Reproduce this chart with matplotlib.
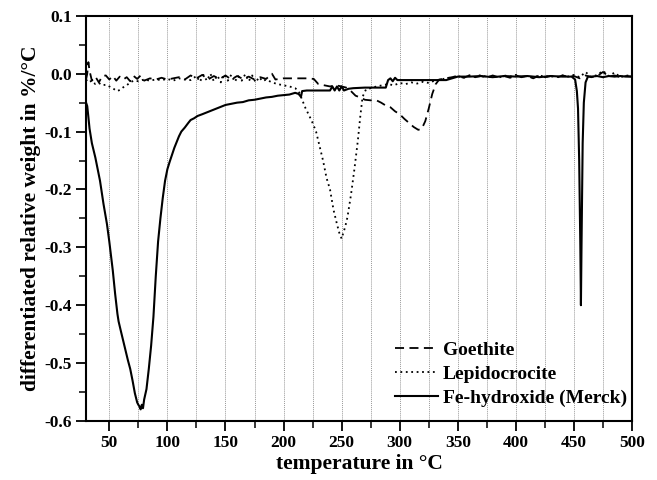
import matplotlib
matplotlib.use('Agg')
import matplotlib.pyplot as plt
from matplotlib.ticker import MultipleLocator

plt.rcParams['font.family'] = 'Liberation Serif'
plt.rcParams['font.weight'] = 'bold'
plt.rcParams['axes.unicode_minus'] = False

# Goethite (dashed)
goe_t = [30, 31, 32, 33, 35, 38, 41, 44, 47, 50, 53, 56, 59, 62, 65, 68, 71, 74, 77, 80,
         85, 90, 95, 100, 105, 110, 115, 120, 125, 130, 135, 140, 145, 150, 155, 160,
         165, 170, 175, 180, 185, 190, 193, 200, 210, 220, 226, 230, 235, 240, 245, 250,
         254, 258, 262, 266, 270, 275, 280, 284, 288, 292, 296, 300, 304, 308, 312, 316,
         319, 322, 325, 328, 331, 334, 340, 345, 350, 355, 360, 365, 370, 375, 380, 385,
         390, 395, 400, 405, 410, 415, 420, 425, 430, 435, 440, 445, 450, 455, 460, 465,
         470, 475, 480, 485, 490, 495, 500]
goe_v = [-0.01, 0.0, 0.02, 0.005, -0.012, -0.005, -0.015, -0.004, -0.003, -0.01, -0.004,
         -0.012, -0.005, -0.01, -0.006, -0.013, -0.004, -0.009, -0.003, -0.012,
         -0.008, -0.01, -0.007, -0.01, -0.008, -0.006, -0.01, -0.003, -0.008, -0.002,
         -0.01, -0.004, -0.009, -0.003, -0.01, -0.004, -0.009, -0.005, -0.01, -0.006,
         -0.009, 0.0, -0.01, -0.008, -0.008, -0.008, -0.009, -0.018, -0.02, -0.022,
         -0.02, -0.022, -0.024, -0.03, -0.038, -0.041, -0.045, -0.046, -0.046, -0.05,
         -0.055, -0.058, -0.065, -0.07, -0.078, -0.085, -0.092, -0.097, -0.095, -0.082,
         -0.06, -0.035, -0.018, -0.01, -0.008, -0.006, -0.004, -0.007, -0.003, -0.006,
         -0.004, -0.007, -0.003, -0.006, -0.004, -0.007, -0.003, -0.006, -0.004, -0.008,
         -0.003, -0.006, -0.004, -0.007, -0.003, -0.005, -0.004, -0.008, -0.003, -0.006,
         -0.004, 0.003, -0.005, -0.003, -0.006, -0.004, -0.005]

# Lepidocrocite (dotted)
lep_t = [30, 32, 35, 38, 41, 44, 47, 50, 53, 55, 57, 59, 61, 63, 65, 68, 71, 75, 80, 85,
         90, 95, 100, 105, 110, 115, 120, 125, 128, 131, 134, 137, 140, 143, 146, 149,
         152, 155, 158, 161, 164, 167, 170, 173, 176, 179, 182, 185, 190, 195, 200, 205,
         210, 213, 216, 219, 222, 225, 228, 231, 234, 237, 240, 243, 246, 248, 250, 251,
         253, 255, 258, 261, 264, 266, 268, 271, 275, 280, 285, 290, 295, 300, 305, 310,
         315, 320, 325, 330, 335, 340, 345, 350, 355, 360, 365, 370, 375, 380, 385, 390,
         395, 400, 405, 410, 415, 420, 425, 430, 435, 440, 445, 450, 455, 460, 465, 470,
         475, 480, 485, 490, 495, 500]
lep_v = [-0.01, -0.015, -0.012, -0.018, -0.016, -0.02, -0.019, -0.022, -0.025, -0.028,
         -0.03, -0.028, -0.025, -0.022, -0.02, -0.015, -0.012, -0.013, -0.01, -0.012,
         -0.01, -0.011, -0.009, -0.012, -0.008, -0.01, -0.011, -0.004, -0.014, -0.002,
         -0.012, 0.0, -0.013, -0.003, -0.015, -0.001, -0.012, -0.002, -0.014, -0.004,
         -0.012, -0.001, -0.013, -0.003, -0.015, -0.006, -0.013, -0.01, -0.015, -0.018,
         -0.02, -0.022, -0.025, -0.03, -0.045, -0.06, -0.072, -0.085, -0.1, -0.125,
         -0.15, -0.18, -0.2, -0.235, -0.26, -0.275, -0.285, -0.278, -0.265, -0.248,
         -0.21, -0.165, -0.115, -0.075, -0.04, -0.027, -0.025, -0.022, -0.02, -0.018,
         -0.02, -0.016, -0.018, -0.015, -0.017, -0.014, -0.016, -0.012, -0.01, -0.008,
         -0.006, -0.004, -0.007, -0.003, -0.006, -0.002, -0.006, -0.004, -0.007, -0.003,
         -0.005, -0.002, -0.006, -0.004, -0.007, -0.003, -0.005, -0.004, -0.006, -0.003,
         -0.005, -0.002, -0.006, 0.003, -0.006, -0.002, 0.005, -0.004, 0.002, -0.006,
         -0.003, -0.004]

# Fe-hydroxide (Merck) (solid)
fe_t = [30, 31, 32, 33, 35, 38, 40, 42, 45, 48, 50, 53, 55, 57, 58, 60, 63, 66, 68, 70,
        72, 74, 75, 76, 77, 78, 79, 80, 82, 84, 86, 88, 90, 92, 94, 96, 98, 100, 102, 104,
        106, 108, 110, 112, 115, 118, 120, 123, 126, 130, 135, 140, 145, 150, 155, 160,
        165, 170, 175, 180, 185, 190, 195, 200, 205, 210, 213, 215, 216, 220, 230, 240,
        242, 244, 246, 248, 250, 252, 256, 260, 270, 280, 288, 290, 292, 294, 296, 298,
        300, 310, 320, 330, 340, 345, 350, 360, 370, 380, 390, 400, 410, 420, 430, 440,
        445, 448, 451, 452.5, 453.5, 454.5, 455.5, 456, 456.5, 457.5, 458.5, 460, 462,
        465, 470, 475, 480, 485, 490, 495, 500]
fe_v = [-0.05, -0.056, -0.075, -0.095, -0.12, -0.145, -0.165, -0.185, -0.225, -0.26,
        -0.29, -0.34, -0.38, -0.415, -0.428, -0.445, -0.47, -0.495, -0.51, -0.53,
        -0.552, -0.568, -0.572, -0.575, -0.58, -0.572, -0.578, -0.563, -0.545, -0.51,
        -0.47, -0.42, -0.35, -0.29, -0.25, -0.215, -0.185, -0.165, -0.152, -0.14,
        -0.128, -0.118, -0.108, -0.1, -0.093, -0.085, -0.08, -0.077, -0.073, -0.07,
        -0.066, -0.062, -0.058, -0.054, -0.052, -0.05, -0.049, -0.046, -0.045, -0.043,
        -0.041, -0.04, -0.038, -0.037, -0.036, -0.033, -0.035, -0.04, -0.03, -0.029,
        -0.029, -0.029, -0.022, -0.029, -0.022, -0.029, -0.022, -0.029, -0.026, -0.025,
        -0.024, -0.024, -0.024, -0.011, -0.008, -0.013, -0.007, -0.011, -0.011, -0.011,
        -0.011, -0.011, -0.011, -0.008, -0.005, -0.005, -0.004, -0.006, -0.004, -0.005,
        -0.004, -0.006, -0.004, -0.005, -0.005, -0.005, -0.01, -0.03, -0.06, -0.15,
        -0.3, -0.4, -0.3, -0.12, -0.05, -0.015, -0.005, -0.005, -0.004, -0.006, -0.004,
        -0.005, -0.004, -0.005, -0.005]

fig = plt.figure(figsize=(6.57, 4.8), dpi=100)
ax = fig.add_axes([0.131, 0.123, 0.831, 0.844])

ax.plot(goe_t, goe_v, color='black', lw=1.3, linestyle=(0, (5, 3)), label='Goethite')
ax.plot(lep_t, lep_v, color='black', lw=1.3, linestyle=(0, (1, 2)), label='Lepidocrocite')
ax.plot(fe_t, fe_v, color='black', lw=1.5, linestyle='-', label='Fe-hydroxide (Merck)')

ax.set_xlim(30, 500)
ax.set_ylim(-0.6, 0.1)
ax.xaxis.set_major_locator(MultipleLocator(50))
ax.xaxis.set_minor_locator(MultipleLocator(25))
ax.yaxis.set_major_locator(MultipleLocator(0.1))
ax.yaxis.set_minor_locator(MultipleLocator(0.05))
ax.yaxis.set_major_formatter(plt.FuncFormatter(lambda v, p: f'{v:.1f}'))
ax.tick_params(which='major', direction='out', length=7.5, width=1.3, labelsize=12.5,
               pad=2.5)
ax.tick_params(which='minor', direction='out', length=5, width=1.1)
for sp in ax.spines.values():
    sp.set_linewidth(1.5)

ax.grid(True, axis='x', which='both', color='0.6', lw=0.7, linestyle=(0, (1, 1)))

ax.set_xlabel('temperature in °C', fontsize=15.5, fontweight='bold', labelpad=2)
ax.set_ylabel('differentiated relative weight in %/°C', fontsize=15.5, fontweight='bold',
              labelpad=3)

ax.legend(loc='lower right', bbox_to_anchor=(1.016, 0.0), frameon=False, fontsize=14,
          handlelength=2.2, handletextpad=0.25, labelspacing=0.33, borderaxespad=0.3)

fig.savefig('out.png', dpi=100)
